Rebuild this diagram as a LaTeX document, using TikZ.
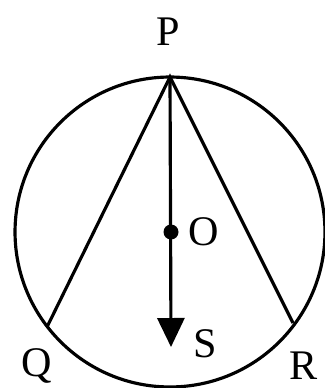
\documentclass[tikz,border=0pt]{standalone}
\usepackage{fontspec}
\setmainfont{Liberation Serif}
\usetikzlibrary{arrows.meta}

\begin{document}
\begin{tikzpicture}[x=0.02cm, y=-0.02cm, line width=1.8pt,
	every node/.style={font=\fontsize{24}{28}\selectfont, inner sep=0pt},
	>={Triangle[width=0.54cm, length=0.58cm]}]
	\useasboundingbox (0,0) rectangle (324,388);
	\coordinate (O) at (170,232);
	\coordinate (P) at (170,77);
	\coordinate (Q) at (47,327);
	\coordinate (R) at (293,323);
	\coordinate (S) at (171,347);
	\draw (O) circle[radius=3.1cm];
	\draw (Q) -- (P) -- (R);
	\draw[->] (P) -- (S);
	\fill (171,232) circle[radius=0.15cm];
	\node (Plabel) at (168,32) {P};
	\node (Olabel) at (204,232) {O};
	\node (Slabel) at (205,344) {S};
	\node (Qlabel) at (37,366) {Q};
	\node (Rlabel) at (304,366) {R};
\end{tikzpicture}
\end{document}
